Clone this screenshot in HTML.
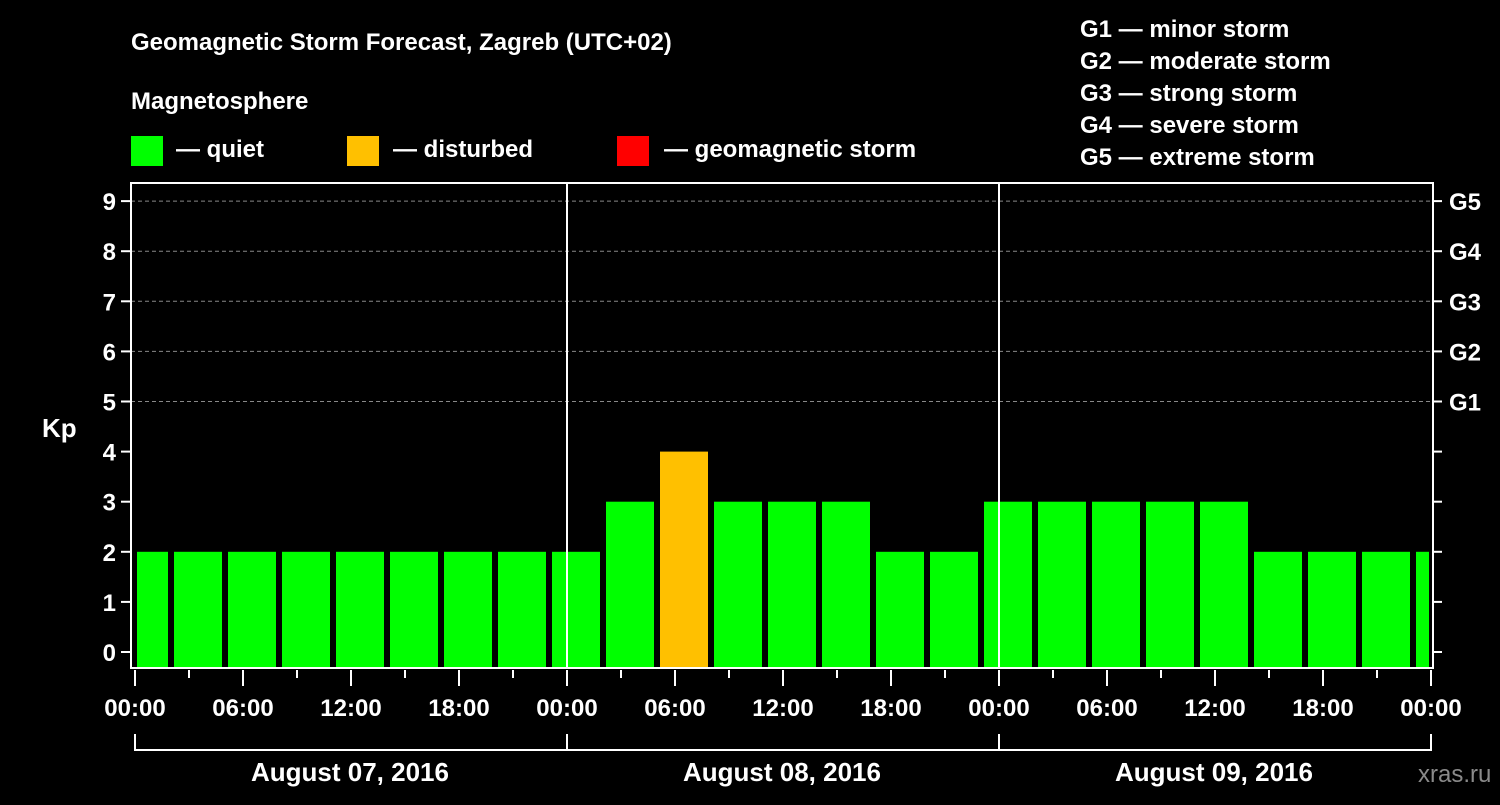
<!DOCTYPE html>
<html><head><meta charset="utf-8"><style>
body{margin:0;background:#000;width:1500px;height:800px;overflow:hidden}
svg text{font-family:"Liberation Sans",sans-serif;font-weight:bold;fill:#fff}
</style></head><body>
<svg id="c" width="1500" height="800">
<text x="131" y="50" font-size="24">Geomagnetic Storm Forecast, Zagreb (UTC+02)</text>
<text x="131" y="109" font-size="24">Magnetosphere</text>
<g><rect x="131" y="136" width="32" height="30" fill="#00ff00"/><text x="176" y="157" font-size="24">— quiet</text></g>
<g><rect x="347" y="136" width="32" height="30" fill="#ffc000"/><text x="393" y="157" font-size="24">— disturbed</text></g>
<g><rect x="617" y="136" width="32" height="30" fill="#ff0000"/><text x="664" y="157" font-size="24">— geomagnetic storm</text></g>
<g font-size="24">
<text x="1080" y="37" font-size="24">G1 — minor storm</text>
<text x="1080" y="69" font-size="24">G2 — moderate storm</text>
<text x="1080" y="101" font-size="24">G3 — strong storm</text>
<text x="1080" y="133" font-size="24">G4 — severe storm</text>
<text x="1080" y="165" font-size="24">G5 — extreme storm</text>
</g>
<text x="42" y="437" font-size="26">Kp</text>
<text x="1418" y="782" font-size="24" fill="#888" style="fill:#8a8a8a;font-weight:normal">xras.ru</text>
<g id="plot"></g>
</svg>
<script>
const kpValues=[2,2,2,2,2,2,2,2,2,3,4,3,3,3,2,2,3,3,3,3,3,2,2,2,2];
const yTicks=[0,1,2,3,4,5,6,7,8,9];
const gLabels=["G1","G2","G3","G4","G5"];
const xTickLabels=["00:00","06:00","12:00","18:00","00:00","06:00","12:00","18:00","00:00","06:00","12:00","18:00","00:00"];
const dayLabels=["August 07, 2016","August 08, 2016","August 09, 2016"];
const NS="http://www.w3.org/2000/svg";
const L=131,R=1433,T=183,B=668,X0=135,PXH=18;
const y=v=>652-v*50.1;
const x=h=>X0+h*PXH;
const g=document.getElementById('plot');
function el(t,a,p){const e=document.createElementNS(NS,t);for(const k in a)e.setAttribute(k,a[k]);(p||g).appendChild(e);return e;}
// grid
yTicks.forEach(v=>{if(v>=5){const l=el('line',{x1:L,x2:R,y1:y(v),y2:y(v),stroke:'#888','stroke-dasharray':'4,3','stroke-width':1});

}});
// bars
kpValues.forEach((v,i)=>{const c=(i*3+0.5)*PXH+X0;let x1=Math.max(c-24,L+6),x2=Math.min(c+24,R-4);
const r=el('rect',{x:x1,y:y(v),width:x2-x1,height:B-y(v),fill:v>=5?'#ff0000':(v>=4?'#ffc000':'#00ff00')});

});
// day separators
[1,2].forEach(d=>{const l=el('line',{x1:x(24*d),x2:x(24*d),y1:T,y2:B,stroke:'#fff','stroke-width':2});

});
// frame
const f=el('rect',{x:L,y:T,width:R-L,height:B-T,fill:'none',stroke:'#fff','stroke-width':2});


// y ticks
yTicks.forEach(v=>{el('line',{x1:L-10,x2:L,y1:y(v),y2:y(v),stroke:'#fff','stroke-width':2});
el('line',{x1:R,x2:R+9,y1:y(v),y2:y(v),stroke:'#fff','stroke-width':2});
const t=el('text',{x:116,y:y(v)+9,'font-size':24,'text-anchor':'end'});t.textContent=v;

});
gLabels.forEach((s,i)=>{const t=el('text',{x:1449,y:y(5+i)+9,'font-size':24});t.textContent=s;

});
// x ticks
for(let h=0;h<=72;h+=3){const major=h%6===0;el('line',{x1:x(h),x2:x(h),y1:B+2,y2:B+(major?18:10),stroke:'#fff','stroke-width':2});}
xTickLabels.forEach((s,i)=>{const t=el('text',{x:x(i*6),y:716,'font-size':24,'text-anchor':'middle'});t.textContent=s;

});
// day brackets
el('path',{d:`M${x(0)},734V750H${x(72)}V734M${x(24)},734V750M${x(48)},734V750`,fill:'none',stroke:'#fff','stroke-width':2});
dayLabels.forEach((s,i)=>{const t=el('text',{x:x(24*i+12)-1,y:781,'font-size':26,'text-anchor':'middle'});t.textContent=s;

});
</script>
</body></html>
